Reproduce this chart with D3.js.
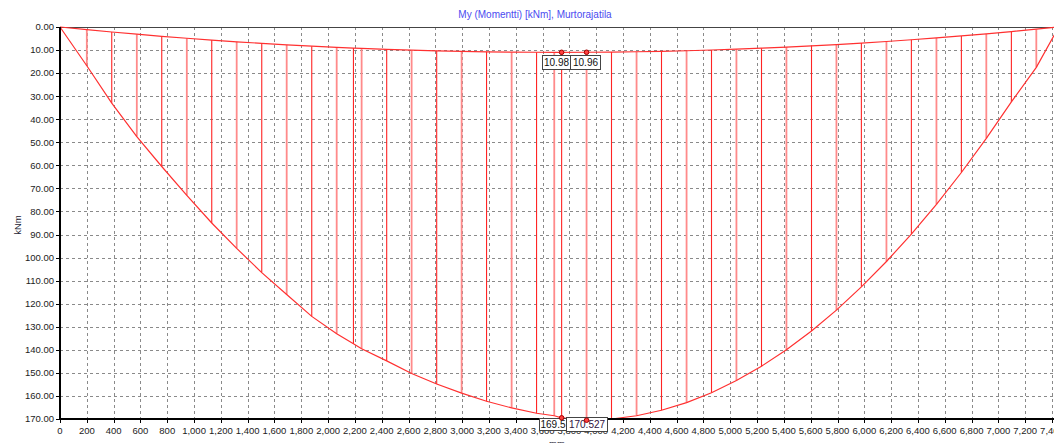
<!DOCTYPE html>
<html>
<head>
<meta charset="utf-8">
<script src="https://cdn.jsdelivr.net/npm/d3@7"></script>
<style>
  body { margin: 0; background: #fff; }
  svg { display: block; font-family: "Liberation Sans", Arial, sans-serif; }
  .grid line { stroke: #8a8a8a; stroke-dasharray: 3,3; shape-rendering: crispEdges; }
  .tick-label { font-size: 9.5px; fill: #222; }
</style>
</head>
<body>
<div id="chart"></div>
<script>
// stations along the beam [mm]
var stations = [0, 200, 386, 573, 759, 946, 1132, 1318, 1505, 1691, 1878, 2064, 2189, 2250,
  2437, 2623, 2810, 2996, 3182, 3369, 3555, 3687, 3742, 3928, 4114, 4301, 4487, 4674, 4860,
  5046, 5233, 5419, 5606, 5792, 5978, 6165, 6351, 6538, 6724, 6910, 7097, 7283, 7450];

// upper envelope My [kNm]
var upperMoment = [0, 1.15, 2.16, 3.12, 4.03, 4.88, 5.67, 6.41, 7.09, 7.72, 8.30, 8.81, 9.13, 9.28,
  9.68, 10.04, 10.34, 10.58, 10.77, 10.90, 10.96, 10.97, 10.98, 10.96, 10.88, 10.74, 10.54, 10.29, 9.98,
  9.62, 9.20, 8.72, 8.19, 7.61, 6.98, 6.28, 5.53, 4.73, 3.87, 2.96, 1.99, 0.96, 0];

// lower envelope My [kNm]
var lowerMoment = [0, 16.8, 33.0, 47.5, 60.5, 73.0, 85.0, 96.0, 106.5, 116.0, 125.5, 133.0, 137.4, 139.5,
  144.8, 150.3, 154.8, 158.8, 162.3, 165.2, 167.5, 168.6, 169.5, 170.527, 170.0, 168.6, 166.2, 162.9, 158.6,
  153.3, 147.1, 140.0, 131.8, 122.8, 112.7, 101.7, 89.8, 76.9, 63.1, 48.3, 32.5, 17.5, 0];

// highlighted extreme values
var markX = [3742, 3928, 3742, 3928];
var markY = [10.98, 10.96, 169.5, 170.527];
var markText = ["10.98", "10.96", "169.5", "170.527"];

var xTicks = d3.range(0, 7401, 200);
var yTicks = d3.range(0, 171, 10);

var width = 1054, height = 443;
var x0 = 60, x1 = 1052, yTop = 27, yBottom = 419;

var svg = d3.select("#chart").append("svg")
  .attr("width", width)
  .attr("height", height);

var x = d3.scaleLinear().domain([0, 7400]).range([x0, x1]);
var y = d3.scaleLinear().domain([0, 170]).range([yTop, yBottom]);

// grid
var grid = svg.append("g").attr("class", "grid");
grid.selectAll("line.v")
  .data(xTicks.slice(1))
  .enter().append("line")
  .attr("x1", function(d) { return Math.round(x(d)) + 0.5; })
  .attr("x2", function(d) { return Math.round(x(d)) + 0.5; })
  .attr("y1", yTop)
  .attr("y2", yBottom);
grid.selectAll("line.h")
  .data(yTicks.slice(1, -1))
  .enter().append("line")
  .attr("x1", x0)
  .attr("x2", width)
  .attr("y1", function(d) { return Math.round(y(d)) + 0.5; })
  .attr("y2", function(d) { return Math.round(y(d)) + 0.5; });

// top border
svg.append("line")
  .attr("x1", x0).attr("x2", width)
  .attr("y1", yTop + 0.5).attr("y2", yTop + 0.5)
  .attr("stroke", "#444").attr("stroke-width", 1);

// hatching between the two envelopes
svg.append("g").selectAll("line")
  .data(stations.map(function(s, i) { return [s, upperMoment[i], lowerMoment[i], i]; })
    .filter(function(d) { return d[2] - d[1] > 0.01; }))
  .enter().append("line")
  .attr("x1", function(d) { return x(d[0]); })
  .attr("x2", function(d) { return x(d[0]); })
  .attr("y1", function(d) { return y(d[1]); })
  .attr("y2", function(d) { return y(d[2]); })
  .attr("stroke", function(d) { return d[3] % 2 ? "#ff8a8a" : "#ff2424"; })
  .attr("stroke-width", function(d) { return d[3] % 2 ? 1.8 : 1.1; });

var line = d3.line()
  .x(function(d) { return x(d[0]); })
  .y(function(d) { return y(d[1]); });

svg.append("path")
  .datum(stations.map(function(s, i) { return [s, upperMoment[i]]; }))
  .attr("d", line)
  .attr("fill", "none")
  .attr("stroke", "#ff3030")
  .attr("stroke-width", 1.2);

svg.append("path")
  .datum(stations.map(function(s, i) { return [s, lowerMoment[i]]; }))
  .attr("d", line)
  .attr("fill", "none")
  .attr("stroke", "#ff3030")
  .attr("stroke-width", 1.2);

// y axis
svg.append("line")
  .attr("x1", x0).attr("x2", x0)
  .attr("y1", yTop).attr("y2", yBottom + 1)
  .attr("stroke", "#000").attr("stroke-width", 2);
svg.append("g").selectAll("text")
  .data(yTicks)
  .enter().append("text")
  .attr("class", "tick-label")
  .attr("x", x0 - 6)
  .attr("y", function(d) { return y(d); })
  .attr("dy", "0.35em")
  .attr("text-anchor", "end")
  .text(d3.format(".2f"));
svg.append("g").selectAll("line")
  .data(yTicks)
  .enter().append("line")
  .attr("x1", x0 - 4).attr("x2", x0)
  .attr("y1", function(d) { return Math.round(y(d)) + 0.5; })
  .attr("y2", function(d) { return Math.round(y(d)) + 0.5; })
  .attr("stroke", "#000");

// x axis
svg.append("line")
  .attr("x1", x0).attr("x2", width)
  .attr("y1", yBottom).attr("y2", yBottom)
  .attr("stroke", "#000").attr("stroke-width", 2);
svg.append("g").selectAll("line")
  .data(xTicks)
  .enter().append("line")
  .attr("x1", function(d) { return Math.round(x(d)) + 0.5; })
  .attr("x2", function(d) { return Math.round(x(d)) + 0.5; })
  .attr("y1", yBottom).attr("y2", yBottom + 4)
  .attr("stroke", "#000");
svg.append("g").selectAll("text")
  .data(xTicks)
  .enter().append("text")
  .attr("class", "tick-label")
  .attr("x", function(d) { return x(d); })
  .attr("y", 434)
  .attr("text-anchor", "middle")
  .text(d3.format(","));

// titles
svg.append("text")
  .attr("x", 535).attr("y", 18)
  .attr("text-anchor", "middle")
  .style("font-size", "10px")
  .attr("fill", "#4b4bf0")
  .text("My (Momentti) [kNm], Murtorajatila");
svg.append("text")
  .attr("transform", "translate(21,225) rotate(-90)")
  .attr("text-anchor", "middle")
  .style("font-size", "9.5px")
  .attr("fill", "#223")
  .text("kNm");
svg.append("text")
  .attr("x", 557).attr("y", 447)
  .attr("text-anchor", "middle")
  .style("font-size", "9.5px")
  .attr("fill", "#223")
  .text("mm");

// value markers with boxed labels
var marks = markX.map(function(m, i) { return { x: m, y: markY[i], t: markText[i] }; });
var boxW = [28, 30, 27, 41];
var boxLeft = [542, 570, 539, 566];
var boxTop = [y(10.98) + 3, y(10.96) + 3, yBottom - 1, yBottom - 2];
var boxH = [14, 14, 12, 14];

var labels = svg.append("g").selectAll("g")
  .data(marks)
  .enter().append("g");
labels.append("rect")
  .attr("x", function(d, i) { return boxLeft[i] + 0.5; })
  .attr("y", function(d, i) { return Math.round(boxTop[i]) + 0.5; })
  .attr("width", function(d, i) { return boxW[i]; })
  .attr("height", function(d, i) { return boxH[i]; })
  .attr("fill", "#fff")
  .attr("stroke", "#444");
labels.append("text")
  .attr("x", function(d, i) { return boxLeft[i] + boxW[i] / 2 + 0.5; })
  .attr("y", function(d, i) { return Math.round(boxTop[i]) + boxH[i] / 2 + 0.5; })
  .attr("dy", "0.36em")
  .attr("text-anchor", "middle")
  .style("font-size", "10px")
  .attr("fill", function(d, i) { return i == 3 ? "#301040" : "#111"; })
  .text(function(d) { return d.t; });
labels.append("circle")
  .attr("cx", function(d) { return x(d.x); })
  .attr("cy", function(d) { return y(d.y); })
  .attr("r", 2.3)
  .attr("fill", "#ff4040")
  .attr("stroke", "#a00000")
  .attr("stroke-width", 1);
</script>
</body>
</html>
